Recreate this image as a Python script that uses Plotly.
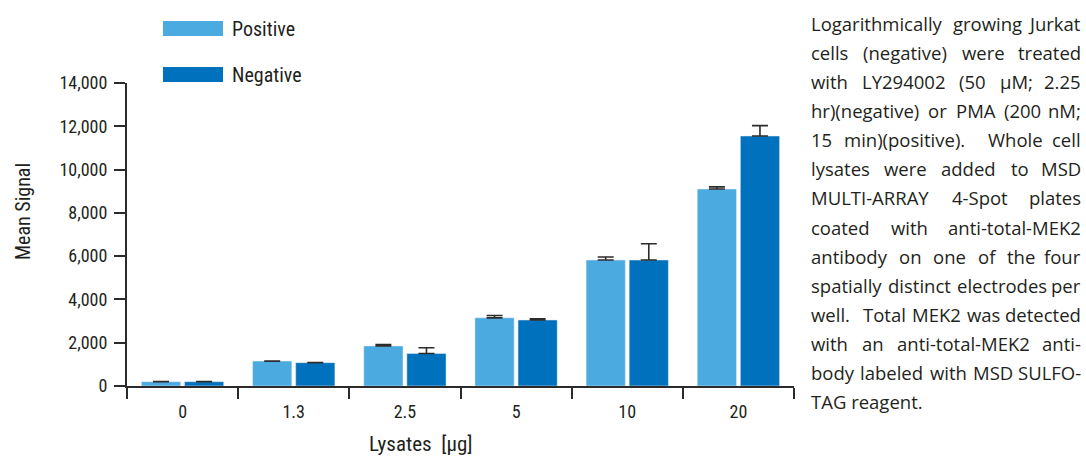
import plotly.graph_objects as go

categories = ["0", "1.3", "2.5", "5", "10", "20"]
positive = [200, 1150, 1850, 3150, 5820, 9100]
positive_err = [0, 0, 70, 110, 140, 100]
negative = [200, 1080, 1500, 3050, 5820, 11550]
negative_err = [0, 0, 270, 60, 750, 480]
y_ticks = [0, 2000, 4000, 6000, 8000, 10000, 12000, 14000]
y_ticklabels = ["0", "2,000", "4,000", "6,000", "8,000", "10,000", "12,000", "14,000"]

# description text (justified in the reference), one string per printed line
description_lines = [
    "Logarithmically growing Jurkat",
    "cells (negative) were treated",
    "with LY294002 (50 µM; 2.25",
    "hr)(negative) or PMA (200 nM;",
    "15 min)(positive).  Whole cell",
    "lysates were added to MSD",
    "MULTI-ARRAY 4-Spot plates",
    "coated with anti-total-MEK2",
    "antibody on one of the four",
    "spatially distinct electrodes per",
    "well.  Total MEK2 was detected",
    "with an anti-total-MEK2 anti-",
    "body labeled with MSD SULFO-",
    "TAG reagent.",
]

POS_COLOR = "#4BAADF"
NEG_COLOR = "#0071BC"
AXIS_COLOR = "#2B2B2B"
TEXT_COLOR = "#231F20"
COND_FONT = "Roboto Condensed, Liberation Sans Narrow, Roboto, sans-serif"
BODY_FONT = "Open Sans, sans-serif"
BODY_SIZE = 18.5

# approximate Open Sans advance widths (units per em = 2048), for justification
_OS_W = {
    " ": 532, "a": 1139, "b": 1255, "c": 975, "d": 1255, "e": 1149, "f": 694, "g": 1122,
    "h": 1257, "i": 518, "j": 518, "k": 1075, "l": 518, "m": 1905, "n": 1257, "o": 1237,
    "p": 1255, "q": 1255, "r": 836, "s": 977, "t": 723, "u": 1257, "v": 1026, "w": 1593,
    "x": 1073, "y": 1028, "z": 977,
    "A": 1296, "B": 1327, "C": 1292, "D": 1493, "E": 1139, "F": 1057, "G": 1491, "H": 1511,
    "I": 571, "J": 547, "K": 1257, "L": 1073, "M": 1849, "N": 1544, "O": 1595, "P": 1233,
    "Q": 1595, "R": 1266, "S": 1124, "T": 1133, "U": 1491, "V": 1219, "W": 1896, "X": 1182,
    "Y": 1147, "Z": 1169,
    "(": 606, ")": 606, ".": 545, ";": 545, ",": 492, "-": 659, "µ": 1264, ":": 545,
}


def text_width(s, size):
    return sum(_OS_W.get(ch, 1171) for ch in s) * size / 2048.0


fig = go.Figure()
fig.add_trace(go.Bar(
    x=categories, y=positive, name="Positive", marker_color=POS_COLOR,
    error_y=dict(type="data", array=positive_err, arrayminus=[0] * 6, symmetric=False,
                 color=AXIS_COLOR, thickness=1.6, width=8),
))
fig.add_trace(go.Bar(
    x=categories, y=negative, name="Negative", marker_color=NEG_COLOR,
    error_y=dict(type="data", array=negative_err, arrayminus=[0] * 6, symmetric=False,
                 color=AXIS_COLOR, thickness=1.6, width=8),
))

W, H = 1086, 460
ml, mr, mt, mb = 127, 292, 83, 74
pw, ph = W - ml - mr, H - mt - mb


def px_x(x):
    return (x - ml) / pw


def px_y(y):
    return 1 - (y - mt) / ph


fig.update_layout(
    width=W, height=H,
    margin=dict(l=ml, r=mr, t=mt, b=mb, pad=0),
    paper_bgcolor="white", plot_bgcolor="white",
    barmode="group", bargap=0.225, bargroupgap=0.09,
    showlegend=False,
    font=dict(family=COND_FONT, color=TEXT_COLOR, size=18),
)
fig.update_xaxes(
    type="category", range=[-0.5, 5.5],
    showline=True, linecolor=AXIS_COLOR, linewidth=2,
    ticks="outside", ticklen=11, tickwidth=2, tickcolor=AXIS_COLOR,
    tickson="boundaries", showgrid=False, zeroline=False,
    ticklabelstandoff=8,
    tickfont=dict(family=COND_FONT, size=18, color=TEXT_COLOR),
)
fig.update_yaxes(
    range=[0, 14000], tickvals=y_ticks, ticktext=y_ticklabels,
    showline=True, linecolor=AXIS_COLOR, linewidth=2,
    ticks="outside", ticklen=11, tickwidth=2, tickcolor=AXIS_COLOR,
    showgrid=False, zeroline=False,
    ticklabelstandoff=3,
    tickfont=dict(family=COND_FONT, size=18, color=TEXT_COLOR),
)

annotations = []
shapes = []
# legend swatches
for i, (name, col) in enumerate([("Positive", POS_COLOR), ("Negative", NEG_COLOR)]):
    y0, y1 = 21 + i * 46, 36 + i * 46
    shapes.append(dict(type="rect", xref="paper", yref="paper",
                       x0=px_x(163), x1=px_x(223), y0=px_y(y1), y1=px_y(y0),
                       fillcolor=col, line=dict(width=0)))
    annotations.append(dict(xref="paper", yref="paper", x=px_x(230), y=px_y((y0 + y1) / 2),
                            text=name, showarrow=False, xanchor="left", yanchor="middle",
                            font=dict(family=COND_FONT, size=20, color=TEXT_COLOR)))
# axis titles
annotations.append(dict(xref="paper", yref="paper", x=px_x(23), y=px_y(212),
                        text="Mean Signal", textangle=-90, showarrow=False,
                        xanchor="center", yanchor="middle",
                        font=dict(family=COND_FONT, size=20, color=TEXT_COLOR)))
annotations.append(dict(xref="paper", yref="paper", x=px_x(421), y=px_y(444),
                        text="Lysates  [µg]", showarrow=False,
                        xanchor="center", yanchor="middle",
                        font=dict(family=COND_FONT, size=21, color=TEXT_COLOR)))

# description text, justified between x = 810 and x = 1082 (last line left-aligned)
TX0, TX1 = 810, 1082
for i, line in enumerate(description_lines):
    yc = px_y(23 + i * 29.15)
    tokens = line.split(" ")
    words, weights = [], []
    for tok in tokens:
        if tok == "":
            weights[-1] += 1
        else:
            words.append(tok)
            weights.append(1)
    weights = weights[:-1]
    base = dict(xref="paper", yref="paper", y=yc, showarrow=False, yanchor="middle",
                borderpad=0, font=dict(family=BODY_FONT, size=BODY_SIZE, color=TEXT_COLOR))
    if i == len(description_lines) - 1 or len(words) == 1:
        annotations.append(dict(base, x=px_x(TX0), text=line.replace(" ", "\u00a0"),
                                xanchor="left"))
        continue
    widths = [text_width(w, BODY_SIZE) for w in words]
    gap = (TX1 - TX0 - sum(widths)) / sum(weights)
    x = TX0
    for j, w in enumerate(words):
        if j == len(words) - 1:
            annotations.append(dict(base, x=px_x(TX1), text=w, xanchor="right"))
        else:
            annotations.append(dict(base, x=px_x(x), text=w, xanchor="left"))
            x += widths[j] + gap * weights[j]

fig.update_layout(annotations=annotations, shapes=shapes)
fig.write_html("out.html", post_script="document.body.style.margin='0';",
               config={"displayModeBar": False})
